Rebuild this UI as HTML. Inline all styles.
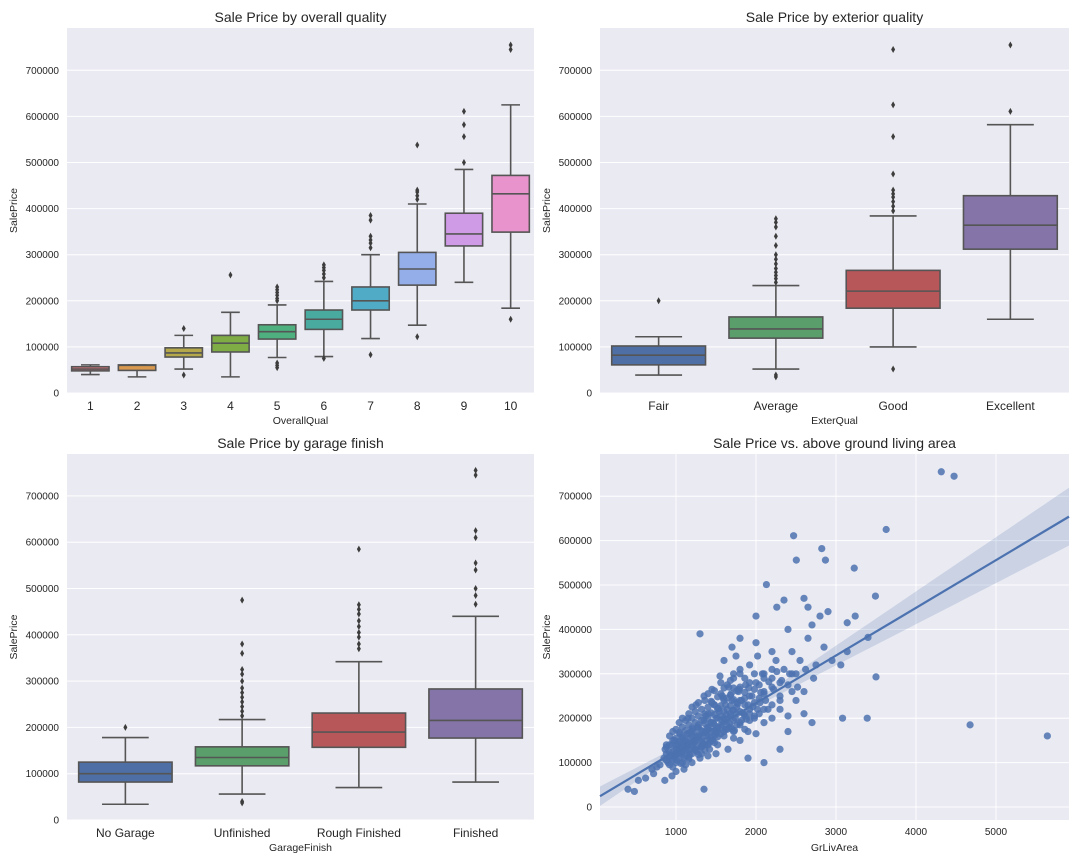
<!DOCTYPE html>
<html><head><meta charset="utf-8"><style>
body{margin:0;background:#fff;}
svg{display:block;font-family:"Liberation Sans",sans-serif;}
</style></head><body>
<svg id="fig" width="1080" height="864" xmlns="http://www.w3.org/2000/svg"></svg>
<script>
// ---------- DATA ----------
const qualCats = ["1","2","3","4","5","6","7","8","9","10"];
const qualQ1  = [48000,49000,78000,89000,117000,138000,180000,234000,319000,349000];
const qualMed = [52000,60000,87000,108000,133000,160000,200000,269000,345000,432000];
const qualQ3  = [57000,61000,98000,125000,148000,180000,230000,305000,390000,472000];
const qualLo  = [40000,35000,52000,35000,77000,79000,118000,147000,240000,184000];
const qualHi  = [61000,61000,125000,175000,191000,242000,300000,410000,485000,625000];
const qualOut = [[],[],[140000,39000],[256000],[200000,205000,212000,218000,224000,230000,55000,60000,65000],[250000,258000,266000,272000,278000,75000],[315000,325000,332000,340000,375000,385000,83000],[420000,428000,436000,440000,538000,122000],[500000,556000,582000,611000],[160000,745000,755000]];
const qualColors = ["#e8767a","#d99a50","#b5a84a","#7fac45","#4db07e","#49aaa0","#4fabc6","#93aee8","#cf9ae6","#e993cc"];

const extCats = ["Fair","Average","Good","Excellent"];
const extQ1  = [61000,119000,184000,312000];
const extMed = [82000,139000,221000,364000];
const extQ3  = [102000,165000,266000,428000];
const extLo  = [39000,52000,100000,160000];
const extHi  = [122000,233000,384000,582000];
const extOut = [[200000],[240000,248000,255000,262000,270000,280000,290000,300000,320000,340000,360000,370000,378000,35000,39000],[395000,405000,415000,425000,432000,440000,475000,556000,625000,745000,52000],[611000,755000]];
const extColors = ["#4e6fa5","#5a9e6b","#b8575a","#8574a8"];

const garCats = ["No Garage","Unfinished","Rough Finished","Finished"];
const garQ1  = [82000,117000,157000,177000];
const garMed = [100000,135000,190000,215000];
const garQ3  = [125000,158000,231000,283000];
const garLo  = [34000,56000,70000,82000];
const garHi  = [178000,217000,342000,440000];
const garOut = [[200000],[225000,235000,245000,255000,265000,275000,285000,300000,315000,325000,360000,380000,475000,40000,37000],[370000,380000,395000,405000,418000,430000,445000,455000,465000,585000],[466000,485000,500000,540000,555000,610000,625000,745000,755000]];

const scatX = [4316,4476,5642,4676,3627,3493,2822,2868,3228,2470,2504,2130,2350,2260,3140,3082,3390,3500,3400,3240,3140,3060,400,480,530,620,700,1300,1350,1800,2000,2100,2200,2400,2600,2700,2650,2800,2900,2950,2500,2600,2700,2400,2300,2100,1900,2000,
800,850,864,900,912,950,960,980,1000,1010,1040,1050,1060,1080,1100,1100,1120,1140,1150,1170,1180,1200,1210,1230,1250,1260,1280,1300,1310,1330,1350,1360,1380,1400,1410,1420,1440,1460,1480,1500,1500,1520,1540,1560,1580,1600,1600,1620,1640,1660,1680,1700,1700,1720,1740,1760,1780,1800,1800,1820,1850,1870,1900,1920,1950,1980,2000,2020,2050,2080,2100,2150,2200,2250,2300,2350,2400,2450,2500,2550,2600,2650,2750,2850,950,1000,1100,1200,1300,1400,1500,1150,1250,1350,1450,1550,1600,1700,1750,1650,1800,1900,2000,2100,2200,2300,2400,1050,980,880,760,720,860,940,1120,1320,1420,1520,1620,1720,1820,1920,2020,2120,2220,2320,2420,2520,2620,2720,
1000,1030,1070,1090,1130,1160,1190,1220,1240,1270,1290,1340,1370,1390,1430,1450,1470,1490,1530,1570,1590,1630,1670,1690,1710,1730,1770,1790,1830,1860,1880,1910,1960,2060,2160,2260];
const scatY = [755000,745000,160000,185000,625000,475000,582000,556000,538000,611000,556000,501000,466000,450000,415000,200000,200000,293000,382000,430000,350000,320000,40000,35000,60000,65000,85000,390000,40000,380000,430000,300000,350000,400000,470000,410000,450000,430000,440000,330000,240000,210000,190000,170000,130000,100000,110000,370000,
95000,110000,130000,100000,125000,140000,90000,115000,130000,105000,145000,120000,98000,135000,150000,110000,128000,165000,140000,118000,155000,132000,175000,145000,160000,125000,185000,150000,135000,170000,195000,140000,160000,210000,175000,130000,190000,150000,230000,170000,200000,140000,215000,180000,250000,160000,200000,230000,185000,270000,210000,175000,240000,290000,200000,225000,260000,185000,310000,240000,210000,275000,230000,320000,250000,200000,280000,340000,235000,300000,260000,220000,290000,330000,250000,310000,275000,350000,300000,330000,260000,380000,320000,360000,70000,80000,85000,100000,110000,115000,120000,200000,230000,250000,265000,295000,330000,360000,340000,130000,150000,170000,165000,190000,200000,220000,205000,165000,150000,140000,90000,75000,60000,110000,95000,120000,145000,170000,175000,155000,195000,210000,220000,240000,265000,285000,300000,270000,310000,290000,
118000,140000,125000,155000,138000,112000,170000,148000,128000,180000,160000,142000,205000,178000,155000,235000,188000,162000,222000,196000,245000,208000,188000,255000,218000,172000,232000,265000,212000,245000,198000,268000,226000,258000,282000,305000];
// dense core of the cloud
const coreX = [880,880,880,920,920,920,920,960,960,960,960,1000,1000,1000,1000,1000,1040,1040,1040,1040,1040,1080,1080,1080,1080,1080,1080,1120,1120,1120,1120,1120,1160,1160,1160,1160,1160,1160,1200,1200,1200,1200,1200,1200,1240,1240,1240,1240,1240,1280,1280,1280,1280,1280,1280,1320,1320,1320,1320,1320,1360,1360,1360,1360,1360,1360,1400,1400,1400,1400,1400,1400,1440,1440,1440,1440,1440,1480,1480,1480,1480,1480,1480,1520,1520,1520,1520,1520,1560,1560,1560,1560,1560,1560,1600,1600,1600,1600,1600,1640,1640,1640,1640,1640,1680,1680,1680,1680,1680,1720,1720,1720,1720,1720,1720,1760,1760,1760,1760,1800,1800,1800,1800,1800,1860,1860,1860,1860,1860,1920,1920,1920,1920,1980,1980,1980,1980,2040,2040,2040,2100,2100,2100,2200,2200,2200,2300,2300,2450,2450];
const coreY = [105000,120000,135000,95000,115000,140000,160000,105000,125000,150000,170000,100000,118000,138000,155000,175000,110000,128000,148000,168000,190000,100000,122000,140000,158000,180000,200000,115000,132000,150000,172000,195000,108000,128000,145000,165000,185000,210000,120000,140000,160000,178000,200000,225000,130000,150000,168000,190000,215000,118000,138000,158000,180000,205000,235000,135000,152000,172000,195000,220000,128000,148000,168000,188000,210000,240000,140000,160000,180000,200000,225000,255000,150000,170000,190000,212000,238000,145000,165000,185000,208000,230000,262000,158000,178000,200000,220000,248000,165000,185000,205000,228000,255000,280000,170000,192000,215000,240000,268000,175000,198000,220000,245000,275000,180000,205000,228000,252000,285000,170000,195000,218000,242000,268000,300000,185000,210000,235000,262000,190000,215000,240000,270000,300000,175000,205000,230000,258000,290000,195000,220000,250000,280000,205000,235000,265000,300000,210000,245000,275000,220000,255000,290000,230000,270000,310000,240000,280000,260000,300000];
const regIntercept = 19000;
const regSlope = 107.4;
const yTicks = [0,100000,200000,300000,400000,500000,600000,700000];
const xTicksArea = [1000,2000,3000,4000,5000];

// ---------- HELPERS ----------
const svgRoot = document.getElementById('fig');
const NS = "http://www.w3.org/2000/svg";
function mk(tag, attrs, parent){const e=document.createElementNS(NS,tag);for(const k in attrs)e.setAttribute(k,attrs[k]);(parent||svgRoot).appendChild(e);return e;}
function txt(s, attrs, parent){const e=mk('text',attrs,parent);e.textContent=s;return e;}

function panel(p){
  const g = mk('g',{});
  
  
  const bg = mk('rect',{x:p.x0,y:p.y0,width:p.x1-p.x0,height:p.y1-p.y0,fill:'#eaeaf2'},g);
  
  
  const t = txt(p.title,{x:(p.x0+p.x1)/2,y:p.y0-6,'text-anchor':'middle','font-size':14,fill:'#262626'},g);
  
  
  yTicks.forEach(v=>{
    const y=p.ys(v);
    if(y<p.y0||y>p.y1) return;
    const l = mk('line',{x1:p.x0,x2:p.x1,y1:y,y2:y,stroke:'#fff','stroke-width':1},g);
    
    
    const tl = txt(String(v),{x:p.x0-8,y:y+3.5,'text-anchor':'end','font-size':10,fill:'#262626'},g);
    
    
  });
  const yl = txt('SalePrice',{x:0,y:0,transform:`translate(${p.x0-50},${(p.y0+p.y1)/2}) rotate(-90)`,'text-anchor':'middle','font-size':10.5,fill:'#262626'},g);
  
  
  const xl = txt(p.xlabel,{x:(p.x0+p.x1)/2,y:p.y1+31,'text-anchor':'middle','font-size':10.5,fill:'#262626'},g);
  
  
  return g;
}

function boxes(p, cats, q1, med, q3, lo, hi, outs, colors, catFont){
  const g = panel(p);
  const bw = (p.x1-p.x0)/cats.length;
  const boxW = bw*0.8;
  cats.forEach((c,i)=>{
    const cx = p.x0 + bw*(i+0.5);
    const bg = mk('g',{},g);
    
    
    const st={stroke:'#555','stroke-width':1.6};
    mk('line',Object.assign({x1:cx,x2:cx,y1:p.ys(q3[i]),y2:p.ys(hi[i])},st),bg);
    mk('line',Object.assign({x1:cx,x2:cx,y1:p.ys(q1[i]),y2:p.ys(lo[i])},st),bg);
    mk('line',Object.assign({x1:cx-boxW/4,x2:cx+boxW/4,y1:p.ys(hi[i]),y2:p.ys(hi[i])},st),bg);
    mk('line',Object.assign({x1:cx-boxW/4,x2:cx+boxW/4,y1:p.ys(lo[i]),y2:p.ys(lo[i])},st),bg);
    mk('rect',Object.assign({x:cx-boxW/2,y:p.ys(q3[i]),width:boxW,height:Math.max(1,p.ys(q1[i])-p.ys(q3[i])),fill:colors[i]},st),bg);
    mk('line',Object.assign({x1:cx-boxW/2,x2:cx+boxW/2,y1:p.ys(med[i]),y2:p.ys(med[i])},st),bg);
    outs[i].forEach(v=>{
      const y=p.ys(v);
      const d = mk('path',{d:`M${cx},${y-3.5}L${cx+2},${y}L${cx},${y+3.5}L${cx-2},${y}Z`,fill:'#3d3d3d'},bg);
      
      
    });
    const tl = txt(c,{x:cx,y:p.y1+17,'text-anchor':'middle','font-size':catFont,fill:'#262626'},g);
    
    
  });
}

// ---------- PANELS ----------
const topRow = {y0:28,y1:393,ys:v=>393-v*0.000461};
boxes(Object.assign({name:'overall-quality-boxplot',x0:67,x1:534,title:'Sale Price by overall quality',xlabel:'OverallQual'},topRow),
  qualCats,qualQ1,qualMed,qualQ3,qualLo,qualHi,qualOut,qualColors,12);
boxes(Object.assign({name:'exterior-quality-boxplot',x0:600,x1:1069,title:'Sale Price by exterior quality',xlabel:'ExterQual'},topRow),
  extCats,extQ1,extMed,extQ3,extLo,extHi,extOut,extColors,12);
boxes({name:'garage-finish-boxplot',x0:67,x1:534,y0:454,y1:820,ys:v=>820-v*0.000463,title:'Sale Price by garage finish',xlabel:'GarageFinish'},
  garCats,garQ1,garMed,garQ3,garLo,garHi,garOut,extColors,12);

// scatter
const sp = {name:'living-area-scatter',x0:600,x1:1069,y0:454,y1:820,ys:v=>807-v*0.000444,title:'Sale Price vs. above ground living area',xlabel:'GrLivArea'};
const xs = v=>596+v*0.08;
const sg = panel(sp);
xTicksArea.forEach(v=>{
  const x=xs(v);
  const l = mk('line',{x1:x,x2:x,y1:sp.y0,y2:sp.y1,stroke:'#fff','stroke-width':1},sg);
  
  
  const t = txt(String(v),{x:x,y:sp.y1+15,'text-anchor':'middle','font-size':10,fill:'#262626'},sg);
  
  
});
const pts = mk('g',{},sg);


function drawPts(X,Y){
  X.forEach((xv,i)=>{
    const c = mk('circle',{cx:xs(xv),cy:sp.ys(Y[i]),r:3.6,fill:'#4c72b0','fill-opacity':0.85},pts);
    
    
  });
}
drawPts(scatX,scatY);
drawPts(coreX,coreY);
// regression band + line
const xa=(sp.x0-596)/0.08, xb=(sp.x1-596)/0.08;
const up=[],dn=[];
for(let k=0;k<=40;k++){
  const xv=xa+(xb-xa)*k/40;
  const yv=regIntercept+regSlope*xv;
  const hw=Math.sqrt(3000*3000+Math.pow(14.8*(xv-1515),2));
  up.push(xs(xv)+','+sp.ys(yv+hw));
  dn.unshift(xs(xv)+','+sp.ys(yv-hw));
}
const band = mk('polygon',{points:up.concat(dn).join(' '),fill:'#4c72b0','fill-opacity':0.2},sg);


const rl = mk('line',{x1:xs(xa),y1:sp.ys(regIntercept+regSlope*xa),x2:xs(xb),y2:sp.ys(regIntercept+regSlope*xb),stroke:'#4c72b0','stroke-width':2.2},sg);


</script>
</body></html>
